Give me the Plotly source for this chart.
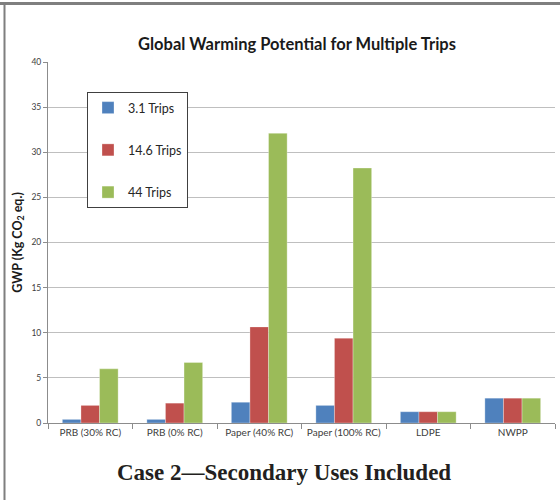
import plotly.graph_objects as go

categories = ["PRB (30% RC)", "PRB (0% RC)", "Paper (40% RC)", "Paper (100% RC)", "LDPE", "NWPP"]
trips_3_1 = [0.4, 0.4, 2.3, 1.95, 1.25, 2.75]
trips_14_6 = [1.95, 2.2, 10.65, 9.4, 1.25, 2.75]
trips_44 = [6.0, 6.7, 32.1, 28.25, 1.25, 2.75]
series_names = ["3.1 Trips", "14.6 Trips", "44 Trips"]
colors = ["#4F81BD", "#C0504D", "#9BBB59"]

L, R, T, B = 48, 5, 62, 77
W, H = 560, 500
pw, ph = W - L - R, H - T - B

def px2x(p):
    return (p - L) / pw

def py2y(p):
    return (H - B - p) / ph

fig = go.Figure()
for i, (name, vals) in enumerate(zip(series_names, [trips_3_1, trips_14_6, trips_44])):
    fig.add_trace(go.Bar(
        x=categories, y=vals, name=name,
        marker=dict(color=colors[i], line=dict(color="rgba(255,255,255,0.6)", width=0.5)),
        legendgroup=name,
    ))

fig.update_layout(
    width=W, height=H,
    margin=dict(l=L, r=R, t=T, b=B),
    paper_bgcolor="white", plot_bgcolor="white",
    barmode="group", bargap=0.34, bargroupgap=0,
    font=dict(family="Lato, Open Sans, sans-serif", color="#404040"),
    title=dict(text="<b>Global Warming Potential for Multiple Trips</b>",
               x=297 / W, xanchor="center",
               y=1 - 44 / H, yanchor="middle",
               font=dict(size=16.5, color="#1a1a1a", family="Lato, sans-serif")),
    showlegend=True,
    legend=dict(x=px2x(87), y=py2y(92), xanchor="left", yanchor="top",
                bordercolor="#404040", borderwidth=1, bgcolor="white",
                font=dict(size=12.5, color="#262626"),
                tracegroupgap=23, traceorder="grouped", itemwidth=30),
    xaxis=dict(showline=True, linecolor="#8c8c8c", linewidth=1,
               ticks="outside", ticklen=5, tickcolor="#8c8c8c",
               tickson="boundaries", tickangle=0,
               tickfont=dict(size=10, color="#404040"), showgrid=False),
    yaxis=dict(range=[0, 40], dtick=5, showline=True, linecolor="#8c8c8c", linewidth=1,
               ticks="outside", ticklen=4, tickcolor="#8c8c8c",
               showgrid=True, gridcolor="#bfbfbf", gridwidth=1,
               tickfont=dict(size=8.5, color="#404040"),
               title=dict(text="<b>GWP (Kg CO<sub>2</sub> eq.)</b>", standoff=6,
                          font=dict(size=12.5, color="#1a1a1a"))),
    shapes=[
        dict(type="line", xref="paper", yref="paper", x0=px2x(0), x1=px2x(560),
             y0=py2y(3.5), y1=py2y(3.5), line=dict(color="#7f7f7f", width=3)),
        dict(type="line", xref="paper", yref="paper", x0=px2x(4.5), x1=px2x(4.5),
             y0=py2y(2), y1=py2y(500), line=dict(color="#7f7f7f", width=2)),
    ],
    annotations=[
        dict(text="<b>Case 2\u2014Secondary Uses Included</b>", xref="paper", yref="paper",
             x=px2x(284), y=py2y(472), xanchor="center", yanchor="middle", showarrow=False,
             font=dict(size=23, color="#231f20", family="Liberation Serif, DejaVu Serif, serif")),
    ],
)

fig.write_html("out.html", config={"displayModeBar": False},
               post_script="document.body.style.margin='0';")
